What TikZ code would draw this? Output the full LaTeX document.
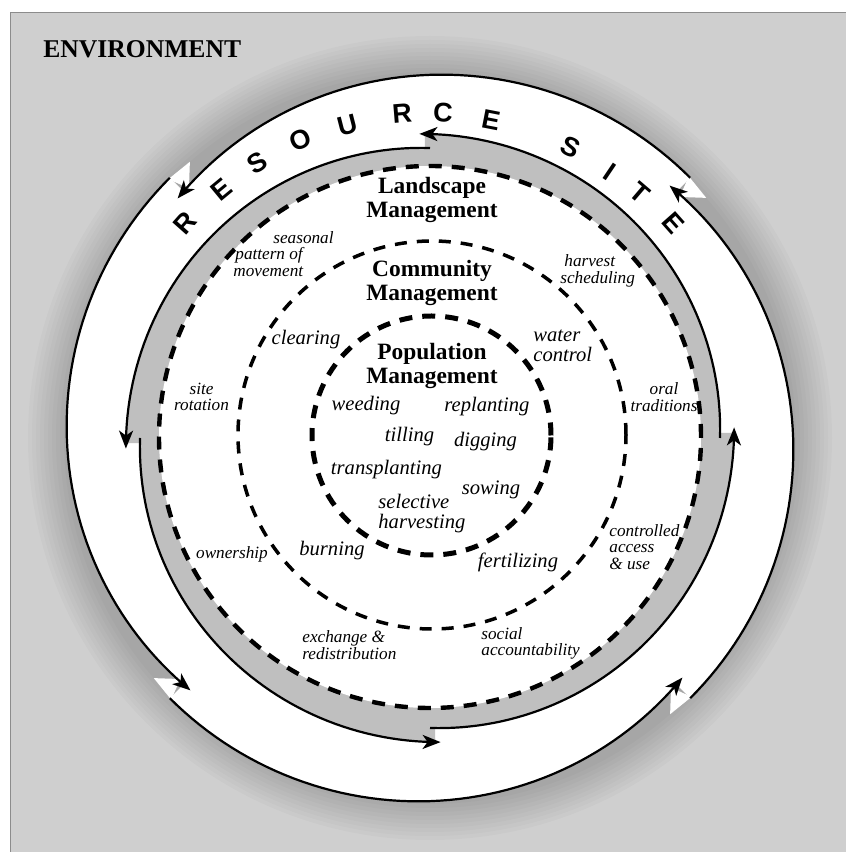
\documentclass[tikz,border=0pt]{standalone}
\usepackage{fontspec}
\setmainfont{Liberation Serif}
\newfontfamily\sitefont{Liberation Sans}
\usetikzlibrary{arrows.meta}
\definecolor{bggray}{gray}{0.81}
\definecolor{bandgray}{gray}{0.75}
\tikzset{
  ringline/.style={line width=1.1pt, black},
  arrowline/.style={ringline, -{Stealth[length=9pt,width=7pt,inset=2.5pt]}},
  dashland/.style={line width=2.2pt, dash pattern=on 6.5pt off 5pt},
  dashcomm/.style={line width=1.75pt, dash pattern=on 6pt off 5pt},
  dashpop/.style={line width=2.5pt, dash pattern=on 6.5pt off 5pt},
  mgmt/.style={font=\bfseries\fontsize{11.7}{11.8}\selectfont, align=center, inner sep=0pt},
  act/.style={font=\itshape\fontsize{10.3}{9.8}\selectfont, inner sep=0pt},
  smalllab/.style={font=\itshape\fontsize{8.6}{8.3}\selectfont, inner sep=0pt},
  siteletter/.style={font=\sitefont\bfseries\fontsize{13.5}{13.5}\selectfont, inner sep=0pt},
}
\begin{document}
\begin{tikzpicture}[x=0.5pt,y=0.5pt]
\useasboundingbox (0,0) rectangle (846,852);
% environment background
\fill[bggray] (10,0) rectangle (846,840);
\draw[black!45, line width=0.4pt] (10,0) -- (10,840) -- (846,840);
\node[font=\bfseries\fontsize{12.8}{13}\selectfont, anchor=base west, inner sep=0pt] (env) at (43,794) {ENVIRONMENT};

\begin{scope}[shift={(430,414)}]
  % halo around the resource site ring
  \foreach \rr in {402,398,...,366} {
    \fill[black, opacity=0.018] (0,0) circle (\rr);
  }
  % white spiral segments of the resource site ring
  \foreach \sa in {45,135,225,315} {
    \fill[white] (0,0) -- plot[domain=\sa:\sa+91.5, samples=60] (\x:{368-20*((\x-\sa)/91.5)^2}) -- cycle;
  }
  % white notches behind the arrow heads
  \foreach \sa in {45,135,225,315} {
    \fill[white] (\sa-4:366) -- (\sa+0.3:368) -- (\sa-1:347) -- cycle;
  }
  % grey spiral band
  \foreach \aa in {0,90,180,270} {
    \fill[bandgray] (0,0) -- plot[domain=\aa:\aa+91, samples=60] (\x:{290+14*(\x-\aa)/90}) -- cycle;
  }
  \fill[white] (0,1) circle (271);
  % outer spiral lines with arrows
  \foreach \sa in {45,135,225,315} {
    \draw[arrowline] plot[domain=\sa:\sa+91.5, samples=60] (\x:{368-20*((\x-\sa)/91.5)^2});
  }
  % inner spiral lines with arrows
  \foreach \aa in {0,90,180,270} {
    \draw[arrowline] plot[domain=\aa:\aa+92, samples=60] (\x:{290+14*(\x-\aa)/90});
  }
\end{scope}

% dashed management circles
\draw[dashland] (430,415) circle (271);
\draw[dashcomm] (432,417) circle (194);
\draw[dashpop] (431.5,416.5) circle (119.5);

% RESOURCE SITE
\node[siteletter, rotate=48.4] (r1) at (185,629) {R};
\node[siteletter, rotate=39.6] (e1) at (222,662) {E};
\node[siteletter, rotate=31.8] (s1) at (257,689) {S};
\node[siteletter, rotate=23.3] (o1) at (300,712) {O};
\node[siteletter, rotate=14.4] (u1) at (348,727) {U};
\node[siteletter, rotate=4.7] (r2) at (402,739) {R};
\node[siteletter, rotate=-2.5] (c1) at (443,739) {C};
\node[siteletter, rotate=-11] (e2) at (491,732) {E};
\node[siteletter, rotate=-25.9] (s2) at (571,705) {S};
\node[siteletter, rotate=-34] (i1) at (610,680) {I};
\node[siteletter, rotate=-40.5] (t1) at (640,659) {T};
\node[siteletter, rotate=-48.4] (e3) at (673,629) {E};

% management titles
\node[mgmt] (land) at (432,652) {Landscape\\Management};
\node[mgmt] (comm) at (432,569) {Community\\Management};
\node[mgmt] (pop) at (432,486) {Population\\Management};

% population activities
\node[act, anchor=base] (weed) at (366,441) {weeding};
\node[act, anchor=base] (replant) at (487,440) {replanting};
\node[act, anchor=base] (till) at (409.5,410) {tilling};
\node[act, anchor=base] (dig) at (485.5,405) {digging};
\node[act, anchor=base] (transp) at (386.5,377) {transplanting};
\node[act, anchor=base] (sow) at (491,357) {sowing};
\node[act, anchor=west, align=left] (selh) at (378,338.6) {selective\\harvesting};

% community activities
\node[act, anchor=base] (clear) at (306,507) {clearing};
\node[act, anchor=west, align=left] (water) at (533,506) {water\\control};
\node[act, anchor=base] (burn) at (332,296) {burning};
\node[act, anchor=base] (fert) at (518,284) {fertilizing};

% landscape activities
\node[smalllab, anchor=west, align=left] (season) at (233,598) {\hspace*{20pt}seasonal\\\hspace*{1pt}pattern of\\movement};
\node[smalllab, anchor=west, align=left] (harv) at (560,581) {\hspace*{2pt}harvest\\scheduling};
\node[smalllab, align=center] (siterot) at (201.5,455) {site\\rotation};
\node[smalllab, align=center] (oral) at (664,455) {oral\\traditions};
\node[smalllab, anchor=base] (own) at (232,293) {ownership};
\node[smalllab, anchor=west, align=left] (ctrl) at (609,305) {controlled\\access\\\& use};
\node[smalllab, anchor=west, align=left] (exch) at (302,207) {exchange \&\\redistribution};
\node[smalllab, anchor=west, align=left] (soc) at (481,208.5) {social\\accountability};
\end{tikzpicture}
\end{document}
